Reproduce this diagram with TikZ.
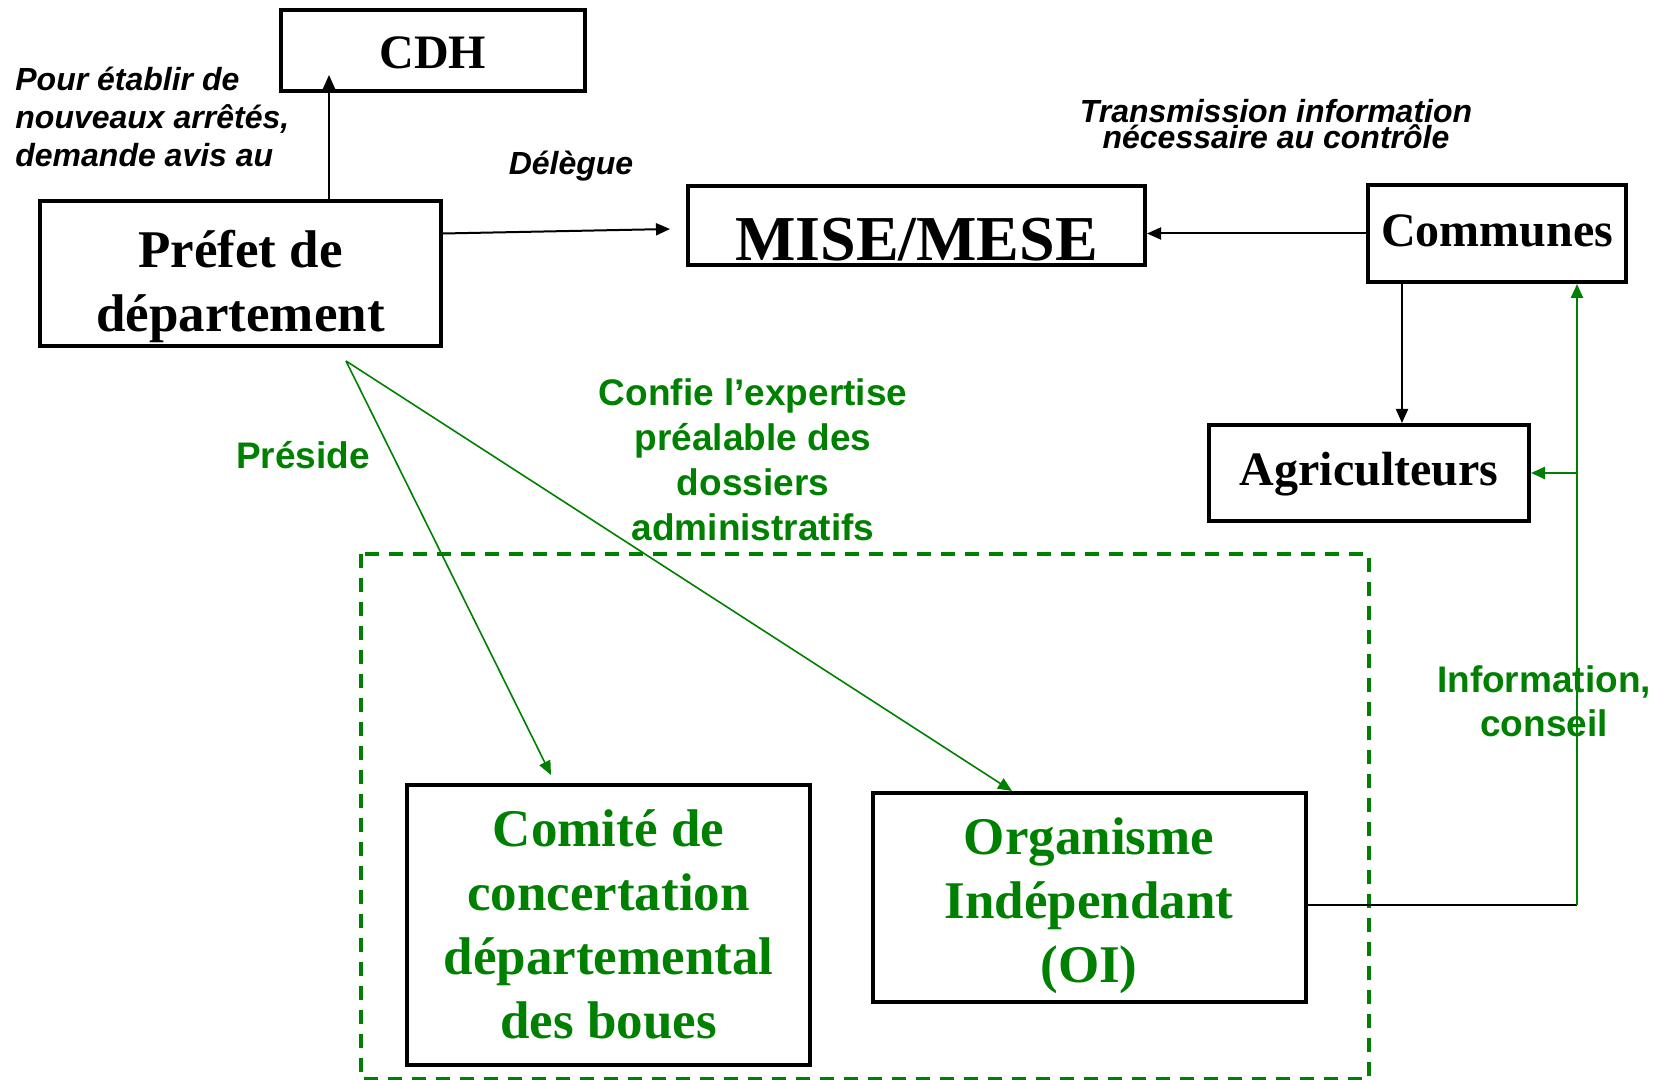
\documentclass[tikz,border=0pt]{standalone}
\usepackage{fontspec}
\setmainfont{Liberation Serif}
\newfontfamily\labelfont{Liberation Sans}
\usepackage{xcolor}
\usetikzlibrary{arrows.meta,positioning,calc}
\definecolor{boxgreen}{RGB}{0,128,0}

\begin{document}
\begin{tikzpicture}[
    x=0.5pt, y=-0.5pt,
    % framed boxes
    box/.style={draw, line width=2pt, inner sep=0pt, align=center},
    smalltext/.style={font=\bfseries\fontsize{24}{29}\selectfont},
    bigtext/.style={font=\bfseries\fontsize{26.5}{32}\selectfont},
    % labels beside the connectors
    note/.style={inner sep=0pt, font=\labelfont\bfseries\itshape\fontsize{16}{19}\selectfont},
    greennote/.style={inner sep=0pt, align=center, text=boxgreen,
      font=\labelfont\bfseries\fontsize{18.5}{22.5}\selectfont},
    link/.style={line width=1pt, -{Triangle[length=7pt,width=6pt]}},
    greenlink/.style={link, draw=boxgreen, fill=boxgreen, line width=0.8pt},
  ]
  \useasboundingbox (0,0) rectangle (1667,1080);

  % upper row
  \node[box, smalltext, minimum width=152pt, minimum height=40.5pt,
    text height=18.5pt, text depth=0pt] (cdh) at (433,50.5) {CDH};
  \node[box, bigtext, minimum width=200.5pt, minimum height=72.5pt,
    text height=58.5pt, text depth=0pt] (prefet) at (240.5,273.5) {Préfet de\\département};
  \node[box, font=\bfseries\fontsize{32}{38}\selectfont, minimum width=228.5pt,
    minimum height=39.5pt, text height=35pt, text depth=0pt] (mise) at (916.5,225.5) {MISE/MESE};
  \node[box, smalltext, minimum width=129pt, minimum height=48.5pt,
    text height=13pt, text depth=0pt] (communes) at (1497,233.5) {Communes};
  \node[box, smalltext, minimum width=160pt, minimum height=48pt,
    text height=12.8pt, text depth=0pt] (agri) at (1369,473) {Agriculteurs};

  % dashed frame round the two bodies
  \draw[boxgreen, line width=1.6pt, dash pattern=on 7pt off 5pt] (361,554) rectangle (1369,1079);

  \node[box, bigtext, text=boxgreen, minimum width=201.5pt, minimum height=140pt,
    text height=113pt, text depth=0pt] (comite) at (608.5,925) {Comité de\\concertation\\départemental\\des boues};
  \node[box, bigtext, text=boxgreen, minimum width=216.5pt, minimum height=104.5pt,
    text height=84.5pt, text depth=0pt] (oi) at (1089,897.5) {Organisme\\Indépendant\\(OI)};

  % labels (base = last line)
  \node[note, anchor=base west, align=left] (pour) at (15,167) {Pour établir de\\nouveaux arrêtés,\\demande avis au};
  \node[note, anchor=base] (delegue) at (571,175) {Délègue};
  \node[note, anchor=base, align=center, font=\labelfont\bfseries\itshape\fontsize{16}{13}\selectfont]
    (transm) at (1276,149) {Transmission information\\nécessaire au contrôle};
  \node[greennote, anchor=base] (preside) at (303,469) {Préside};
  \node[greennote, anchor=base] (confie) at (753,541) {Confie l’expertise\\préalable des\\dossiers\\administratifs};
  \node[greennote, anchor=base] (info) at (1544,737) {Information,\\conseil};

  % black connectors
  \coordinate (cdhin) at (329,75);
  \draw[link] (prefet.north -| cdhin) -- (cdhin);
  \draw[link] ([yshift=20pt]prefet.east) -- ([xshift=-8pt,yshift=-1.75pt]mise.west);
  \draw[link] (communes.west) -- (communes.west -| mise.east);
  \coordinate (agrx) at (1402,0);
  \draw[link] (communes.south -| agrx) -- (agri.north -| agrx);

  % green connectors
  \coordinate (src) at (346,361);
  \draw[greenlink] (src) -- ([xshift=73pt,yshift=4pt]comite.north west);
  \draw[greenlink] (src) -- ([xshift=70.75pt]oi.north west);
  \coordinate (bend) at (1577,905);
  \draw[line width=1.2pt] (oi.east |- bend) -- (bend);
  \draw[greenlink, line width=1.2pt] (bend) -- (bend |- communes.south);
  \draw[greenlink, line width=1.2pt] (bend |- agri.east) -- (agri.east);
\end{tikzpicture}
\end{document}
